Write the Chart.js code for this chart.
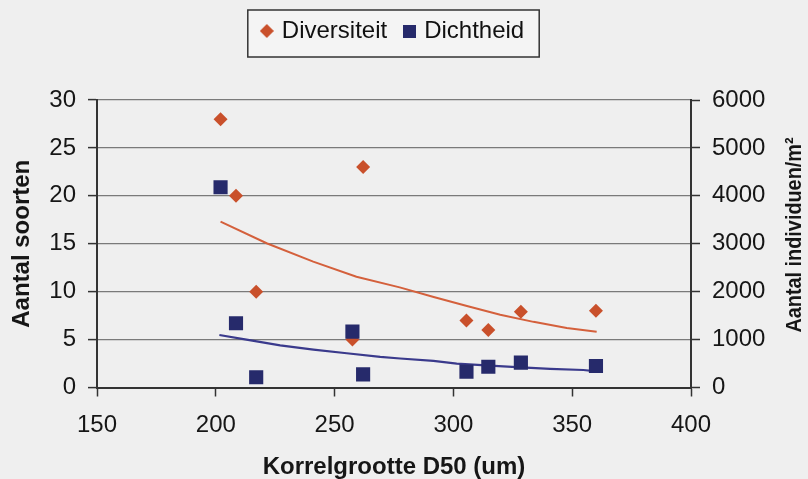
<!DOCTYPE html>
<html><head><meta charset="utf-8">
<script src="https://cdn.jsdelivr.net/npm/chart.js@4.4.0/dist/chart.umd.min.js"></script>
<style>html,body{margin:0;padding:0;background:#efefef;}canvas{display:block;}</style>
</head><body>
<canvas id="c" width="808" height="479"></canvas>
<script>
// ---- data ----
const sampleD50 = [202, 208.5, 217, 257.5, 262, 305.5, 314.7, 328.4, 360];
const diversiteit = [28, 20, 10, 5, 23, 7, 6, 7.9, 8];
const dichtheid = [4180, 1340, 213, 1165, 275, 330, 434, 518, 449];
const trendDiversiteitX = [202, 221.4, 241, 259.2, 277.4, 291.7, 305.7, 319.7, 333.7, 347.7, 360.3];
const trendDiversiteitY = [17.3, 15.05, 13.13, 11.56, 10.45, 9.45, 8.5, 7.6, 6.85, 6.2, 5.82];
const trendDichtheidX = [201.5, 212.9, 227.1, 241.1, 255.1, 269.2, 277.6, 291.6, 301.4, 315.4, 326.6, 340.7, 354.7, 360.3];
const trendDichtheidY = [1096, 1000, 880, 790, 715, 640, 605, 555, 500, 455, 425, 390, 365, 335];
const seriesLabels = ['Diversiteit', 'Dichtheid'];
const xTicks = [150, 200, 250, 300, 350, 400];
const yTicks = [0, 5, 10, 15, 20, 25, 30];
const y2Ticks = [0, 1000, 2000, 3000, 4000, 5000, 6000];
const xTitle = 'Korrelgrootte D50 (um)';
const yTitle = 'Aantal soorten';
const y2Title = 'Aantal individuen/m²';

const COL_DIV = '#c9502b', COL_DICHT = '#262a6b';
const COL_DIV_LINE = '#d4603c', COL_DICHT_LINE = '#3a3a8c';
const FONT = '"Liberation Sans", Arial, sans-serif';
Chart.defaults.font.family = FONT;
Chart.defaults.color = '#161616';

function makeMarker(kind, size, color) {
  const c = document.createElement('canvas');
  c.width = size; c.height = size;
  const g = c.getContext('2d');
  g.fillStyle = color;
  if (kind === 'diamond') {
    g.beginPath(); g.moveTo(size/2, 0); g.lineTo(size, size/2); g.lineTo(size/2, size); g.lineTo(0, size/2); g.closePath(); g.fill();
  } else { g.fillRect(0, 0, size, size); }
  return c;
}
const legendDiamond = makeMarker('diamond', 14, COL_DIV);
const legendSquare = makeMarker('square', 13, COL_DICHT);

const bgPlugin = {
  id: 'bg',
  beforeDraw(chart) {
    const c = chart.ctx;
    c.save();
    c.fillStyle = '#efefef';
    c.fillRect(0, 0, chart.width, chart.height);
    const lg = chart.legend;
    if (lg && lg.legendHitBoxes && lg.legendHitBoxes.length) {
      const hb = lg.legendHitBoxes, last = hb[hb.length - 1];
      const l = hb[0].left - 16, r = last.left + last.width + 15;
      const t = hb[0].top - 9, b = hb[0].top + hb[0].height + 14;
      c.fillStyle = '#f4f4f4'; c.fillRect(l, t, r - l, b - t);
      c.strokeStyle = '#333'; c.lineWidth = 1.5; c.strokeRect(l, t, r - l, b - t);
    }
    c.restore();
  }
};
const legendLayout = {
  id: 'legendLayout',
  beforeLayout(chart) {
    const lg = chart.legend;
    if (lg && !lg._patched) {
      const f = lg.fit;
      lg.fit = function () { f.call(this); this.height = 100; };
      lg._patched = true;
    }
  },
  afterLayout(chart) { const lg = chart.legend; if (lg) { lg.left -= 10; lg.right -= 10; } }
};
const rightTitle = {
  id: 'rightTitle',
  afterDraw(chart) {
    const c = chart.ctx;
    c.save();
    c.translate(795, 235);
    c.rotate(-Math.PI / 2);
    c.font = 'bold 22px ' + FONT;
    c.fillStyle = '#161616';
    c.textAlign = 'center'; c.textBaseline = 'middle';
    const w = c.measureText(y2Title).width;
    c.scale(195 / w, 1);
    c.fillText(y2Title, 0, 0);
    c.restore();
  }
};
const plainTick = v => String(v);

new Chart(document.getElementById('c'), {
  type: 'scatter',
  data: {
    datasets: [
      { label: seriesLabels[0], data: sampleD50.map((x, i) => ({x, y: diversiteit[i]})), yAxisID: 'y',
        pointStyle: 'rectRot', pointRadius: 7, backgroundColor: COL_DIV, borderColor: COL_DIV, borderWidth: 0, order: 2 },
      { label: seriesLabels[1], data: sampleD50.map((x, i) => ({x, y: dichtheid[i]})), yAxisID: 'y2',
        pointStyle: 'rect', pointRadius: 10, backgroundColor: COL_DICHT, borderColor: COL_DICHT, borderWidth: 0, order: 1 },
      { label: 'trend1', data: trendDiversiteitX.map((x, i) => ({x, y: trendDiversiteitY[i]})), yAxisID: 'y',
        showLine: true, pointRadius: 0, borderColor: COL_DIV_LINE, borderWidth: 2, order: 4 },
      { label: 'trend2', data: trendDichtheidX.map((x, i) => ({x, y: trendDichtheidY[i]})), yAxisID: 'y2',
        showLine: true, pointRadius: 0, borderColor: COL_DICHT_LINE, borderWidth: 2.2, order: 3 }
    ]
  },
  options: {
    responsive: false, animation: false, devicePixelRatio: 1,
    layout: { padding: 0 },
    plugins: {
      tooltip: { enabled: false },
      legend: {
        position: 'top',
        labels: {
          usePointStyle: true, pointStyleWidth: 6, padding: 19,
          font: { size: 24 }, color: '#111',
          generateLabels(chart) {
            const items = Chart.defaults.plugins.legend.labels.generateLabels(chart);
            return items.filter(it => it.datasetIndex < 2)
              .sort((a, b) => a.datasetIndex - b.datasetIndex)
              .map(it => {
                it.pointStyle = it.datasetIndex === 0 ? legendDiamond : legendSquare;
                return it;
              });
          }
        }
      }
    },
    scales: {
      x: {
        type: 'linear', position: 'bottom', min: xTicks[0], max: xTicks[xTicks.length - 1],
        afterBuildTicks: s => { s.ticks = xTicks.map(v => ({value: v})); },
        ticks: { font: { size: 24 }, color: '#161616', padding: 14, maxRotation: 0, autoSkip: false, callback: plainTick },
        grid: { drawOnChartArea: false, tickLength: 9, tickColor: '#333', tickWidth: 1.5 },
        border: { color: '#333', width: 2 },
        title: { display: true, text: xTitle, font: { size: 24, weight: 'bold', lineHeight: 1 }, color: '#161616', padding: { top: 0, bottom: 0 } },
        afterFit: s => { s.height = 91.5; }
      },
      y: {
        type: 'linear', position: 'left', min: yTicks[0], max: yTicks[yTicks.length - 1],
        afterBuildTicks: s => { s.ticks = yTicks.map(v => ({value: v})); },
        ticks: { font: { size: 24 }, color: '#161616', padding: 12, callback: plainTick },
        grid: { color: '#7a7a7a', lineWidth: 1.2, tickLength: 9, tickColor: '#333', tickWidth: 1.5 },
        border: { color: '#333', width: 2 },
        title: { display: true, text: yTitle, font: { size: 24, weight: 'bold' }, color: '#161616', padding: { top: 8, bottom: 0 } },
        afterFit: s => { s.width = 97; }
      },
      y2: {
        type: 'linear', position: 'right', min: y2Ticks[0], max: y2Ticks[y2Ticks.length - 1],
        afterBuildTicks: s => { s.ticks = y2Ticks.map(v => ({value: v})); },
        ticks: { font: { size: 24 }, color: '#161616', padding: 12, callback: plainTick },
        grid: { drawOnChartArea: false, tickLength: 9, tickColor: '#333', tickWidth: 1.5 },
        border: { color: '#333', width: 2 },
        afterFit: s => { s.width = 117; }
      }
    }
  },
  plugins: [bgPlugin, legendLayout, rightTitle]
});
</script>
</body></html>
